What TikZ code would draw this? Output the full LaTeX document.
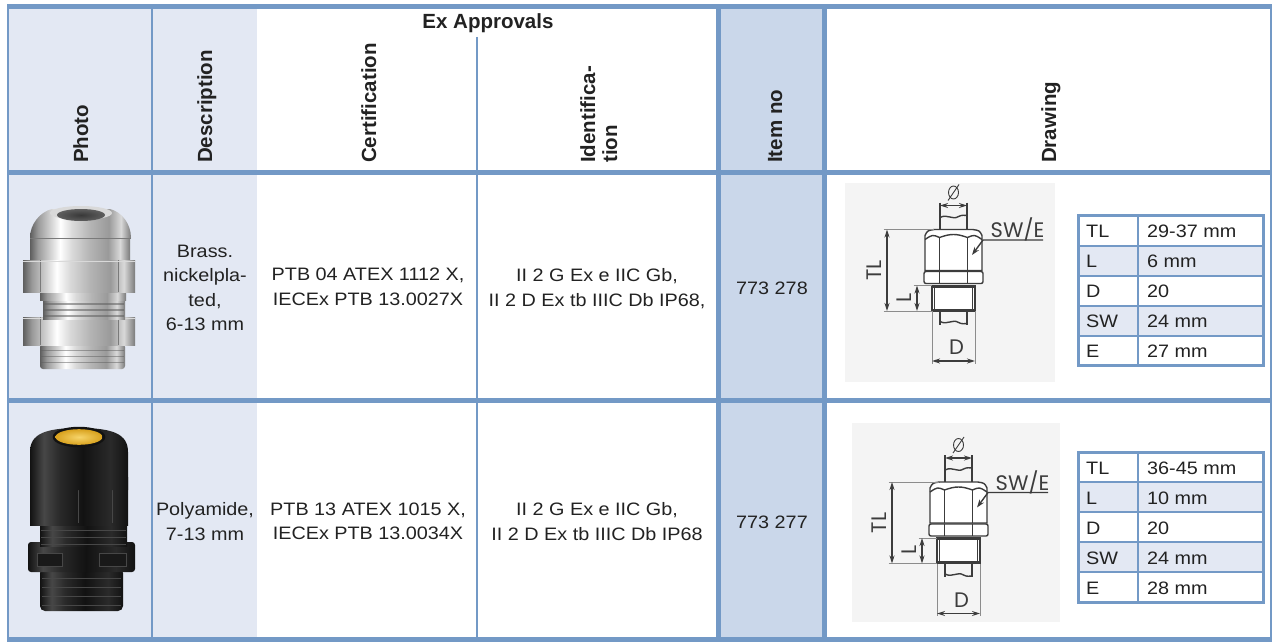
\documentclass[tikz,border=0pt]{standalone}
\usepackage{fontspec}
\setmainfont{Liberation Sans}
\newfontfamily\bodyf{Liberation Sans}[FakeStretch=1.1]
\newfontfamily\headf{Liberation Sans}
\newfontfamily\sketchf{Poppins}
\usetikzlibrary{arrows.meta}
\definecolor{tblline}{HTML}{7399C6}
\definecolor{lightfill}{HTML}{E3E8F3}
\definecolor{itemfill}{HTML}{CAD7EA}
\definecolor{drawbg}{HTML}{F4F4F4}
\definecolor{dline}{HTML}{3C3C3C}
\definecolor{extgray}{HTML}{8C8C8C}
\definecolor{txt}{HTML}{222222}
\definecolor{nA}{HTML}{5E5E5E}
\definecolor{nB}{HTML}{9A9A9A}
\definecolor{nC}{HTML}{D9D9D9}
\definecolor{nD}{HTML}{B4B4B4}
\definecolor{nE}{HTML}{7A7A7A}
\definecolor{kA}{HTML}{121212}
\definecolor{kB}{HTML}{2A2A2A}
\definecolor{kC}{HTML}{474747}
\definecolor{ylwA}{HTML}{F6D46A}
\definecolor{ylwB}{HTML}{D9A21E}
\pgfdeclarehorizontalshading{nickel}{100bp}{color(0bp)=(nA); color(25bp)=(nA); color(29bp)=(nB); color(36bp)=(nC); color(40bp)=(white); color(46bp)=(nC); color(55bp)=(nD); color(64bp)=(nB); color(70bp)=(nC); color(75bp)=(nE); color(100bp)=(nE)}
\pgfdeclarehorizontalshading{plastic}{100bp}{color(0bp)=(kA); color(25bp)=(kA); color(32bp)=(kC); color(40bp)=(kB); color(52bp)=(kA); color(66bp)=(kB); color(75bp)=(kA); color(100bp)=(kA)}
\newcommand{\glandsketch}[3]{%
\begin{scope}[shift={(#1,#2)}]
  % cable above
  \draw[dl] (-13.5,-27) -- (-13.5,0);
  \draw[dl] (13.5,-27) -- (13.5,0);
  \draw[dl] (-13.5,-12) .. controls (-6,-16) and (-1,-9) .. (5,-13) .. controls (9,-15) and (11,-14) .. (13.5,-14);
  \draw[dim] (-13.5,-24) -- (13.5,-24);
  \draw[draw=dline, line width=0.9pt] (0,-37) ellipse [x radius=5pt, y radius=6.5pt];
  \draw[draw=dline, line width=0.9pt] (-5.5,-29) -- (5.5,-45);
  % cap and hex
  \draw[dl, fill=white] (-28.5,41) -- (-28.5,6) .. controls (-26,1) .. (-19,0) -- (19,0) .. controls (26,1) .. (28.5,6) -- (28.5,41) -- cycle;
  \draw[dl] (-28.5,10) .. controls (-21,5) .. (-14,8) .. controls (-3,4) and (3,4) .. (14,8) .. controls (21,5) .. (28.5,10);
  \draw[dl] (-14,8) -- (-14,41) (14,8) -- (14,41);
  % flange
  \draw[dl, fill=white, rounded corners=2pt] (-29.5,42) rectangle (29.5,54);
  \draw[dl] (-14,42) -- (-14,54) (14,42) -- (14,54);
  % thread
  \draw[dl, fill=white] (-21.5,56) rectangle (21.5,81.5);
  \draw[dl] (-19,57) -- (-19,80.5) (19,57) -- (19,80.5);
  \draw[draw=dline, line width=2.4pt] (-21.5,57) -- (21.5,57) (-21.5,80.5) -- (21.5,80.5);
  % cable below
  \draw[dl] (-13.5,81.5) -- (-13.5,95) (13.5,81.5) -- (13.5,95);
  \draw[dl] (-13.5,92) .. controls (-6,96) and (-1,89) .. (5,93) .. controls (9,95) and (11,94) .. (13.5,94);
  % dimensions
  \draw[ext] (-21.5,81.5) -- (-21.5,134) (21.5,81.5) -- (21.5,134);
  \draw[dim] (-21.5,131.5) -- (21.5,131.5);
  \node[dlab] (#3D) at (3,118) {D};
  \draw[ext] (-70,0) -- (-20,0) (-70,81.5) -- (-21.5,81.5);
  \draw[dim] (-66.5,0) -- (-66.5,81.5);
  \node[dlab, rotate=90] (#3TL) at (-79.5,41) {TL};
  \draw[ext] (-40,56) -- (-21.5,56);
  \draw[dim] (-36.5,56) -- (-36.5,81.5);
  \node[dlab, rotate=90] (#3L) at (-49.5,68) {L};
  \node[dlab] (#3SW) at (64,0) {SW/E};
  \coordinate (#3tip) at (18.5,25.5);
  \draw[dl, -{Stealth[length=8pt,width=5.5pt]}] (89.5,10.5) -- (29.5,10.5) -- (#3tip);
\end{scope}}
\newcommand{\minitable}[7]{%
  \fill[lightfill] (1078,#1+30) rectangle (1263,#1+60);
  \fill[lightfill] (1078,#1+90) rectangle (1263,#1+120);
  \foreach \k in {30,60,90,120} \draw[finerule] (1078,#1+\k) -- (1263,#1+\k);
  \draw[finerule] (1138,#1) -- (1138,#1+150);
  \draw[draw=tblline, line width=3pt] (1078,#1) rectangle (1263,#1+150);
  \node[mt] (#7a1) at (1086,#1+22) {TL};
  \node[mt] (#7b1) at (1147,#1+22) {#2};
  \node[mt] (#7a2) at (1086,#1+52) {L};
  \node[mt] (#7b2) at (1147,#1+52) {#3};
  \node[mt] (#7a3) at (1086,#1+82) {D};
  \node[mt] (#7b3) at (1147,#1+82) {#4};
  \node[mt] (#7a4) at (1086,#1+112) {SW};
  \node[mt] (#7b4) at (1147,#1+112) {#5};
  \node[mt] (#7a5) at (1086,#1+142) {E};
  \node[mt] (#7b5) at (1147,#1+142) {#6};
}
\begin{document}
\begin{tikzpicture}[x=1pt,y=-1pt,
  hd/.style={font=\headf\bfseries\fontsize{20.5}{22}\selectfont, text=txt, inner sep=0pt},
  bd/.style={font=\bodyf\fontsize{18}{24.5}\selectfont, text=txt, align=center, inner sep=0pt},
  mt/.style={font=\bodyf\fontsize{18}{20}\selectfont, text=txt, inner sep=0pt, anchor=base west},
  boldrule/.style={draw=tblline, line width=5pt},
  finerule/.style={draw=tblline, line width=2pt},
  dl/.style={draw=dline, line width=1.4pt},
  ext/.style={draw=extgray, line width=0.8pt},
  dim/.style={draw=dline, line width=1.4pt, {Stealth[length=8pt,width=5pt]}-{Stealth[length=8pt,width=5pt]}},
  dlab/.style={font=\sketchf\fontsize{21}{22}\selectfont, text=dline, inner sep=0pt},
]
\fill[white] (0,0) rectangle (1273,642);
\useasboundingbox (0,0) rectangle (1273,642);
% column fills
\fill[lightfill] (8,6.5) rectangle (257,639.5);
\fill[itemfill] (718.5,6.5) rectangle (824.5,639.5);

% ---------- header texts ----------
\node[hd, anchor=base] (exapp) at (488,29) {Ex Approvals};
\node[hd, rotate=90, anchor=base west] (hphoto) at (88,163) {Photo};
\node[hd, rotate=90, anchor=base west] (hdesc) at (212,163) {Description};
\node[hd, rotate=90, anchor=base west] (hcert) at (376,163) {Certification};
\node[hd, rotate=90, anchor=base west] (hid1) at (595,163) {Identifica-};
\node[hd, rotate=90, anchor=base west] (hid2) at (617,163) {tion};
\node[hd, rotate=90, anchor=base west] (hitem) at (782,163) {Item no};
\node[hd, rotate=90, anchor=base west] (hdraw) at (1056,163) {Drawing};

% ---------- row 1 texts ----------
\node[bd] (d1) at (205,288) {Brass.\\nickelpla-\\ted,\\6-13 mm};
\node[bd] (c1) at (368,287) {PTB 04 ATEX 1112 X,\\IECEx PTB 13.0027X};
\node[bd] (i1) at (597,288.5) {II 2 G Ex e IIC Gb,\\II 2 D Ex tb IIIC Db IP68,};
\node[bd] (n1) at (772,288) {773 278};

% ---------- row 2 texts ----------
\node[bd] (d2) at (205,521.5) {Polyamide,\\7-13 mm};
\node[bd] (c2) at (368,521.5) {PTB 13 ATEX 1015 X,\\IECEx PTB 13.0034X};
\node[bd] (i2) at (597,521.5) {II 2 G Ex e IIC Gb,\\II 2 D Ex tb IIIC Db IP68};
\node[bd] (n2) at (772,522) {773 277};

% ---------- photo 1: nickel-plated brass gland ----------
\shade[shading=nickel, rounded corners=3pt] (40,344) rectangle (125,369);
\foreach \yy in {350,356,362} \draw[nA, line width=1pt, opacity=.5] (41,\yy) -- (124,\yy);
\shade[shading=nickel] (23,317) rectangle (135,345);
\draw[nE, line width=0.8pt] (40,317) -- (40,345) (118,317) -- (118,345);
\draw[nC, line width=0.8pt] (23,318) -- (135,318);
\shade[shading=nickel] (43,299) rectangle (125,319);
\foreach \yy in {304,310,316} \draw[nA, line width=1.2pt, opacity=.55] (44,\yy) -- (124,\yy);
\shade[shading=nickel] (40,291) rectangle (126,300);
\shade[shading=nickel] (30,236) rectangle (130,262);
\shade[shading=nickel] (23,260) rectangle (135,292);
\draw[nE, line width=0.8pt] (40,260) -- (40,292) (118,260) -- (118,292);
\draw[nC, line width=0.8pt] (23,261) -- (135,261);
\shade[shading=nickel] (30,238) .. controls (30,224) and (40,212) .. (52,209) -- (110,209) .. controls (122,212) and (131,224) .. (131,238) -- cycle;
\draw[nE, line width=0.8pt] (30,238) -- (131,238);
\fill[nC] (81,213) ellipse [x radius=31pt, y radius=7pt];
\shade[inner color=nA!60!black, outer color=nA] (81,215) ellipse [x radius=24pt, y radius=6pt];

% ---------- photo 2: black polyamide gland ----------
\shade[shading=plastic, rounded corners=5pt] (40,568) rectangle (123,611);
\foreach \yy in {578,587,596,605} \draw[kC, line width=1pt] (42,\yy) -- (121,\yy);
\shade[shading=plastic, rounded corners=3pt] (28,542) rectangle (135,572);
\fill[kA!70!kB] (37,553) rectangle (62,566);
\fill[kA!70!kB] (99,553) rectangle (126,566);
\draw[kC, line width=0.8pt] (37,553) rectangle (62,566) (99,553) rectangle (126,566);
\shade[shading=plastic] (40,523) rectangle (127,546);
\foreach \yy in {530,537,544} \draw[kC, line width=1pt] (41,\yy) -- (126,\yy);
\shade[shading=plastic] (30,477) rectangle (128,525);
\draw[kC, line width=0.8pt] (44,480) -- (44,523) (112,480) -- (112,523) (78,480) -- (78,523);
\shade[shading=plastic] (30,490) -- (30,452) .. controls (30,434) and (45,428) .. (79,428) .. controls (113,428) and (128,434) .. (128,452) -- (128,490) -- cycle;
\draw[kA, line width=2.5pt] (79,437) ellipse [x radius=25pt, y radius=9pt];
\shade[inner color=ylwA, outer color=ylwB] (79,437) ellipse [x radius=23.5pt, y radius=7.8pt];

% ---------- drawings ----------
\fill[drawbg] (845,183) rectangle (1055,382);
\fill[drawbg] (852,423) rectangle (1060,622);
\glandsketch{953.5}{229.5}{ga}
\glandsketch{958.5}{482}{gb}

% ---------- mini tables ----------
\minitable{215.5}{29-37 mm}{6 mm}{20}{24 mm}{27 mm}{ta}
\minitable{452}{36-45 mm}{10 mm}{20}{24 mm}{28 mm}{tb}

% ---------- table rules ----------
\draw[finerule] (8,6.5) -- (8,639.5);
\draw[finerule] (152,6.5) -- (152,639.5);
\draw[finerule] (477,37) -- (477,639.5);
\draw[finerule] (1271,6.5) -- (1271,639.5);
\draw[boldrule] (718.5,6.5) -- (718.5,639.5);
\draw[boldrule] (824.5,6.5) -- (824.5,639.5);
\draw[boldrule] (7,6.5) -- (1272,6.5);
\draw[boldrule] (7,172.5) -- (1272,172.5);
\draw[boldrule] (7,400) -- (1272,400);
\draw[boldrule] (7,639.5) -- (1272,639.5);
\end{tikzpicture}
\end{document}
